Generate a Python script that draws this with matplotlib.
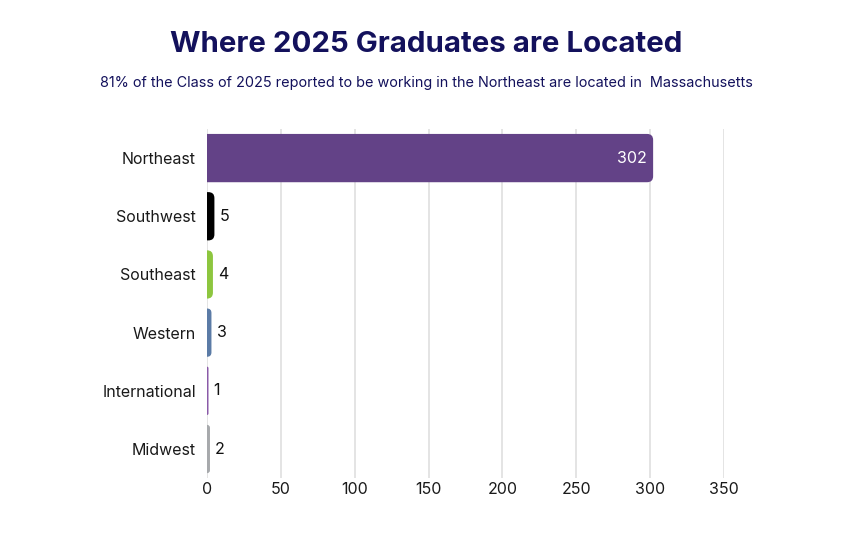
import matplotlib
matplotlib.use("Agg")
import matplotlib.pyplot as plt
from matplotlib.patches import FancyBboxPatch

categories = ["Northeast", "Southwest", "Southeast", "Western", "International", "Midwest"]
values = [302, 5, 4, 3, 1, 2]
colors = ["#634287", "#000000", "#8dc63f", "#5b7ba6", "#8a5aa8", "#a7a9ac"]
xticks = [0, 50, 100, 150, 200, 250, 300, 350]
title = "Where 2025 Graduates are Located"
subtitle = "81% of the Class of 2025 reported to be working in the Northeast are located in  Massachusetts"

plt.rcParams['font.family'] = ['Inter', 'DejaVu Sans']
navy = "#13115c"

fig = plt.figure(figsize=(8.53, 5.33), dpi=100)
ax = fig.add_axes([0.2427, 0.103, 0.8488 - 0.2427, 0.655])

ypos = list(range(len(categories)))
bars = ax.barh(ypos, values, height=0.83, color=colors)
ax.set_xlim(0, 350)
ax.set_ylim(len(categories) - 0.5, -0.5)

# replace bars with right-rounded versions (left corners clipped at x=0)
fig.canvas.draw()
px_per_x = ax.transData.transform((1, 0))[0] - ax.transData.transform((0, 0))[0]
px_per_y = abs(ax.transData.transform((0, 1))[1] - ax.transData.transform((0, 0))[1])
rpx = 6.0
for b, c in zip(bars, colors):
    x0, y0 = b.get_x(), b.get_y()
    w, h = b.get_width(), b.get_height()
    r = min(rpx / px_per_x, w)
    aspect = (rpx / px_per_y) / (rpx / px_per_x)
    p = FancyBboxPatch((x0 - r, y0), w + r, h,
                       boxstyle=f"round,pad=0,rounding_size={r}",
                       mutation_aspect=aspect, facecolor=c, edgecolor="none",
                       clip_on=True, zorder=3)
    ax.add_patch(p)
    b.remove()

for y, v in zip(ypos, values):
    if v > 100:
        ax.text(v - 4, y, str(v), ha="right", va="center", color="white", fontsize=11.5, zorder=4)
    else:
        ax.text(v + 3.5, y, str(v), ha="left", va="center", color="#111111", fontsize=11.5, zorder=4)

ax.set_yticks(ypos)
ax.set_yticklabels(categories, fontsize=11.5, color="#1a1a1a")
ax.set_xticks(xticks)
ax.set_xticklabels([str(t) for t in xticks], fontsize=11.5, color="#1a1a1a")
ax.tick_params(axis="both", length=0)
ax.tick_params(axis="y", pad=8)
ax.tick_params(axis="x", pad=3)
for s in ax.spines.values():
    s.set_visible(False)
ax.xaxis.grid(True, color="#dcdcdc", linewidth=1.1)
ax.set_axisbelow(True)

fig.text(0.5, 1 - 45 / 533, title, ha="center", va="center", fontsize=21.2,
         fontweight="bold", color=navy)
fig.text(0.5, 1 - 83 / 533, subtitle, ha="center", va="center", fontsize=10.4,
         color=navy)

fig.savefig("out.png", dpi=100)
